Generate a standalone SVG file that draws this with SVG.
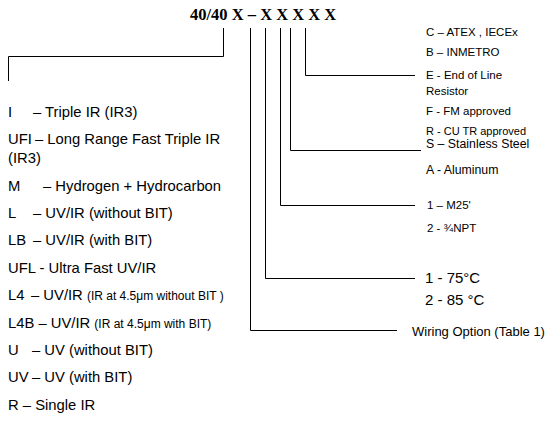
<svg xmlns="http://www.w3.org/2000/svg" width="547" height="448" viewBox="0 0 547 448">
<style>
.t{font-family:"Liberation Sans",Arial,sans-serif;fill:#000}
.l{font-size:14.8px}
.s{font-size:12px}
.r{font-size:11.5px}
.r2{font-size:12.3px}
.b{font-size:15px}
.title{font-family:"Liberation Serif","Times New Roman",serif;font-weight:bold;font-size:16.5px}
.c{fill:none;stroke:#000;stroke-width:1}
</style>
<rect width="547" height="448" fill="#fff"/>
<g id="title"><text class="title" x="190" y="20">40/40 X – X X X X X</text></g>
<g id="connectors">
<polyline class="c" points="223.5,28 223.5,56.5 8.5,56.5 8.5,81"/>
<polyline class="c" points="250.5,28 250.5,330.5 397,330.5"/>
<polyline class="c" points="265.5,28 265.5,278.5 415,278.5"/>
<polyline class="c" points="280.5,28 280.5,205.5 415,205.5"/>
<polyline class="c" points="290.5,28 290.5,150.5 421,150.5"/>
<polyline class="c" points="305.5,28 305.5,75.5 415,75.5"/>
</g>
<g id="model">
<text class="t l" y="117"><tspan x="8">I</tspan><tspan x="33">– Triple IR (IR3)</tspan></text>
<text class="t l" y="144"><tspan x="8">UFI</tspan><tspan x="35">– Long Range Fast Triple IR</tspan></text>
<text class="t l" x="8" y="163">(IR3)</text>
<text class="t l" y="191"><tspan x="8">M</tspan><tspan x="43">– Hydrogen + Hydrocarbon</tspan></text>
<text class="t l" y="218"><tspan x="8">L</tspan><tspan x="33">– UV/IR (without BIT)</tspan></text>
<text class="t l" y="245"><tspan x="8">LB</tspan><tspan x="33">– UV/IR (with BIT)</tspan></text>
<text class="t l" x="8" y="273">UFL - Ultra Fast UV/IR</text>
<text class="t l" y="300"><tspan x="8">L4</tspan><tspan x="31">– UV/IR </tspan><tspan class="s">(IR at 4.5μm without BIT )</tspan></text>
<text class="t l" x="8" y="328">L4B – UV/IR <tspan class="s">(IR at 4.5μm with BIT)</tspan></text>
<text class="t l" y="355"><tspan x="8">U</tspan><tspan x="32">– UV (without BIT)</tspan></text>
<text class="t l" y="382"><tspan x="8">UV</tspan><tspan x="32">– UV (with BIT)</tspan></text>
<text class="t l" x="8" y="410">R – Single IR</text>
</g>
<g id="approval">
<text class="t r" x="426" y="36">C – ATEX , IECEx</text>
<text class="t r" x="426" y="56">B – INMETRO</text>
<text class="t r" x="426" y="79">E - End of Line</text>
<text class="t r" x="426" y="95">Resistor</text>
<text class="t r" x="426" y="115">F - FM approved</text>
<text class="t r" style="font-size:11px" x="426" y="134.5">R - CU TR approved</text>
</g>
<g id="material">
<text class="t r2" x="426" y="147.5">S – Stainless Steel</text>
<text class="t r2" x="426" y="174">A - Aluminum</text>
</g>
<g id="thread">
<text class="t r" x="427" y="209">1 – M25'</text>
<text class="t r" x="427" y="232">2 - ¾NPT</text>
</g>
<g id="temp">
<text class="t b" x="425" y="283">1 - 75°C</text>
<text class="t b" x="425" y="305">2 - 85 °C</text>
</g>
<g id="wiring">
<text class="t" style="font-size:13px" x="412" y="336">Wiring Option (Table 1)</text>
</g>
</svg>
